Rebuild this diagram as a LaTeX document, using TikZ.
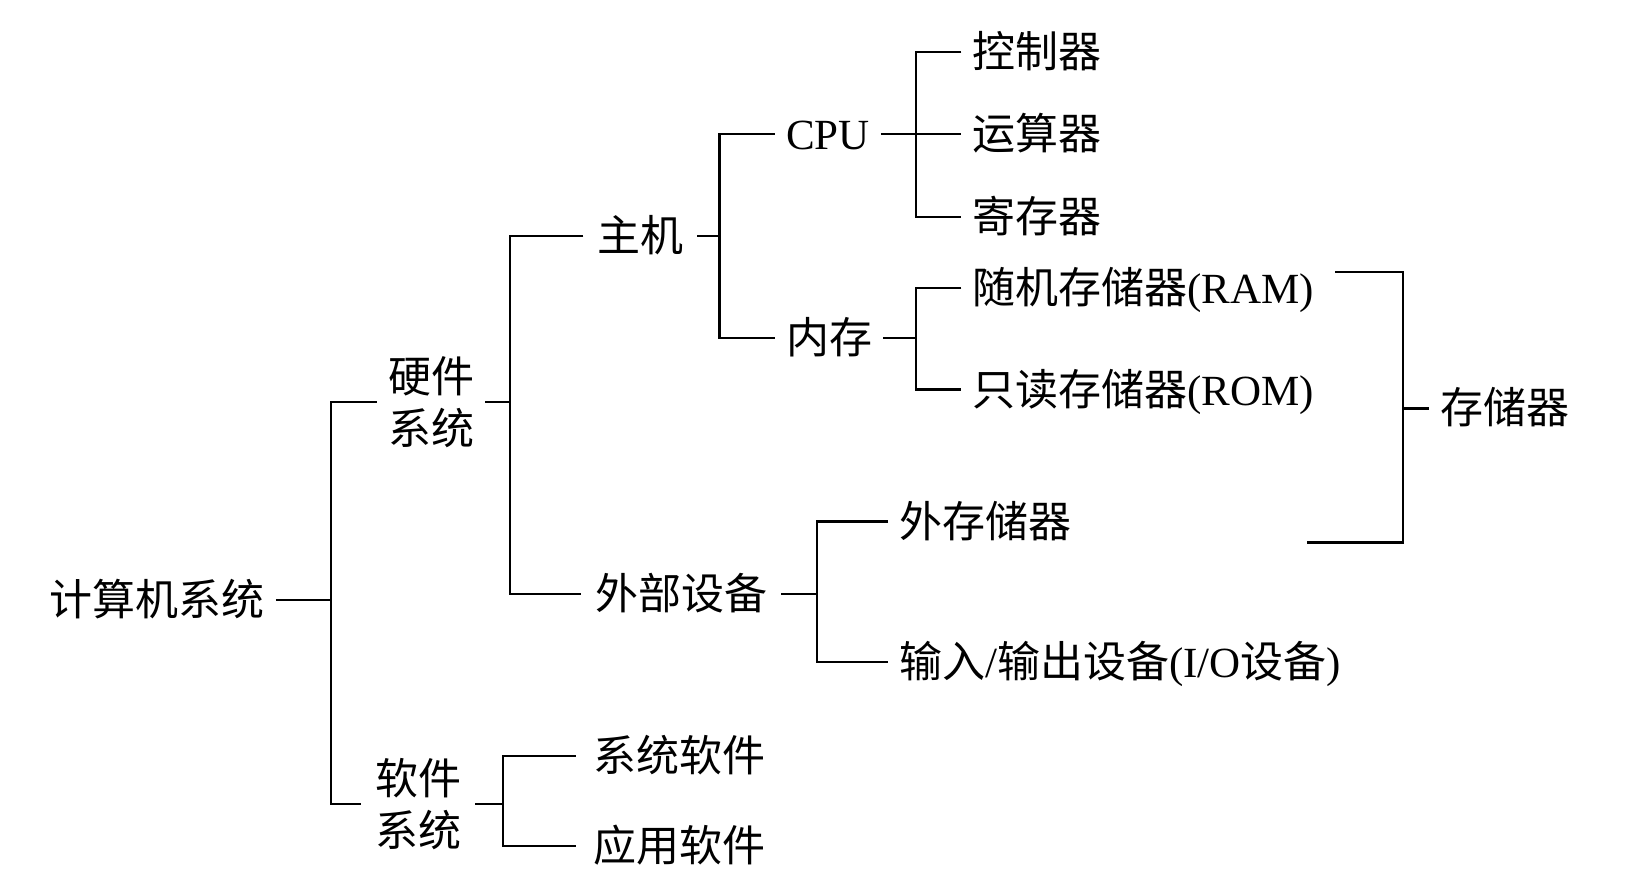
\documentclass[tikz,border=0pt]{standalone}
\usepackage{fontspec}
\setmainfont{Liberation Serif}
\newfontfamily\cjk{Noto Sans CJK SC}
\begin{document}
\begin{tikzpicture}[x=1.0472pt,y=-1.0472pt,
  line width=2.2pt,
  lbl/.style={anchor=west,inner xsep=10pt,inner ysep=0pt,font=\fontsize{43}{52}\selectfont,text height=36pt,text depth=5pt},
  lbl2/.style={anchor=west,inner xsep=10pt,inner ysep=0pt,font=\fontsize{43}{52}\selectfont\cjk,align=left}]
\useasboundingbox (0,0) rectangle (1568,848);
\fill[white] (0,0) rectangle (1568,848);
% nodes
\node[lbl] (root) at (37,573) {\cjk 计算机系统};
\node[lbl2] (hw) at (360,384) {硬件\\系统};
\node[lbl2,inner xsep=13pt] (sw) at (345,768) {软件\\系统};
\node[lbl,inner xsep=13pt] (host) at (557,225) {\cjk 主机};
\node[lbl,inner xsep=13pt] (ext) at (555,567) {\cjk 外部设备};
\node[lbl] (cpu) at (740,128) {CPU};
\node[lbl] (mem) at (740,323) {\cjk 内存};
\node[lbl] (ctrl) at (918,50) {\cjk 控制器};
\node[lbl] (alu) at (918,128) {\cjk 运算器};
\node[lbl] (reg) at (918,207) {\cjk 寄存器};
\node[lbl] (ram) at (918,275) {{\cjk 随机存储器}(RAM)};
\node[lbl] (rom) at (918,372) {{\cjk 只读存储器}(ROM)};
\node[lbl] (disk) at (848,498) {\cjk 外存储器};
\node[lbl] (io) at (848,632) {{\cjk 输入}/{\cjk 输出设备}(I/O{\cjk 设备})};
\node[lbl,inner xsep=16pt] (sys) at (550,722) {\cjk 系统软件};
\node[lbl,inner xsep=16pt] (app) at (550,808) {\cjk 应用软件};
\node[lbl] (store) at (1365,390) {\cjk 存储器};
% junctions
\coordinate (j1) at (316,573);
\coordinate (j2) at (487,384);
\coordinate (j3) at (687,225);
\coordinate (j4) at (875,128);
\coordinate (j5) at (875,323);
\coordinate (j6) at (780,567);
\coordinate (j7) at (480,768);
\coordinate (bt) at (1275,260);
\coordinate (bm) at (1340,390);
\coordinate (bb) at (1248,518);
% connectors
\draw (root.east) -- (j1);
\draw (hw.west) -| (j1) |- (sw.west);
\draw (hw.east) -- (j2);
\draw (host.west) -| (j2) |- (ext.west);
\draw (host.east) -- (j3);
\draw (cpu.west) -| (j3) |- (mem.west);
\draw (cpu.east) -- (j4);
\draw (ctrl.west) -| (j4) |- (reg.west);
\draw (j4) -- (alu.west);
\draw (mem.east) -- (j5);
\draw (ram.west) -| (j5) |- (rom.west);
\draw (ext.east) -- (j6);
\draw (disk.west) -| (j6) |- (io.west);
\draw (sw.east) -- (j7);
\draw (sys.west) -| (j7) |- (app.west);
\draw (bt) -| (bm) |- (bb);
\draw (bm) -- (store.west);
\end{tikzpicture}
\end{document}
